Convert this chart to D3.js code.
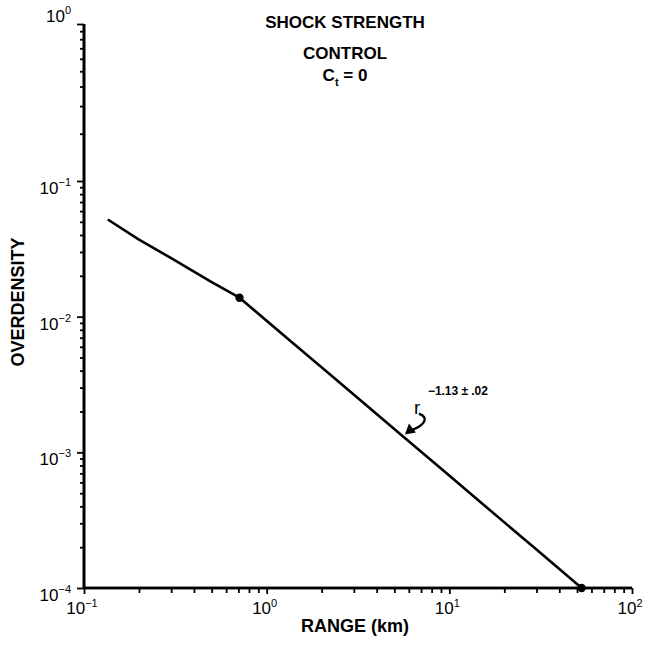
<!DOCTYPE html>
<html><head><meta charset="utf-8">
<script src="https://cdn.jsdelivr.net/npm/d3@7"></script>
<style>
body{margin:0;background:#fff;}
text{font-family:"Liberation Sans",Arial,sans-serif;fill:#000;}
</style></head>
<body><svg id="c" width="651" height="648"></svg>
<script>
// Data
const rangeKm = [0.135, 0.2, 0.3, 0.5, 0.71, 1.3, 2.2, 3.5, 5.5, 9, 15, 30, 53];
const overdensity = [0.052, 0.037, 0.027, 0.018, 0.0138, 0.0069, 0.0038, 0.00223, 0.00133, 0.00076, 0.000423, 0.000192, 0.0001];
const markedRange = [0.71, 53];
const markedOverdensity = [0.0138, 0.0001];
const xMajorTicks = [0.1, 1, 10, 100];
const xTickExp = ["-1", "0", "1", "2"];
const yMajorTicks = [1, 0.1, 0.01, 0.001, 0.0001];
const yTickExp = ["0", "-1", "-2", "-3", "-4"];
const titleLines = ["SHOCK STRENGTH", "CONTROL"];
const annotationExp = "−1.13 ± .02";

const svg = d3.select("#c");
const x = d3.scaleLog().domain([0.1, 100]).range([84, 632]);
// the scanned axis has a taller top decade
const y = d3.scaleLog().domain([1e-4, 0.1, 1]).range([588, 181, 24]);

function minors(lo, hi) {
  const out = [];
  for (let e = Math.round(Math.log10(lo)); e < Math.round(Math.log10(hi)); e++)
    for (let k = 2; k <= 9; k++) out.push(k * Math.pow(10, e));
  return out;
}

// X axis
const gx = svg.append("g").attr("transform", "translate(0,588)");
gx.call(d3.axisBottom(x).tickValues(minors(0.1, 100)).tickSize(5).tickFormat(""));
gx.append("g").call(d3.axisBottom(x).tickValues(xMajorTicks).tickSize(6).tickFormat(""));
gx.selectAll(".domain").attr("stroke-width", 2.6).attr("d", `M${x(0.1)},0H${x(100)}`);
gx.selectAll(".tick line").attr("stroke-width", 1.8).attr("stroke", "#000");
xMajorTicks.forEach((v, i) => {
  const t = gx.append("text").attr("x", x(v) - 2).attr("y", 26).attr("text-anchor", "middle")
    .style("font-size", "17px");
  t.append("tspan").text("10");
  t.append("tspan").attr("dy", -7).style("font-size", "11px").text(xTickExp[i].replace("-", "−"));
});

// Y axis
const gy = svg.append("g").attr("transform", "translate(84,0)");
gy.call(d3.axisLeft(y).tickValues(minors(1e-4, 1)).tickSize(4).tickFormat(""));
gy.append("g").call(d3.axisLeft(y).tickValues(yMajorTicks).tickSize(7).tickFormat(""));
gy.selectAll(".domain").attr("stroke-width", 2.6).attr("d", `M0,${y(1)}V${y(1e-4)}`);
gy.selectAll(".tick line").attr("stroke-width", 1.8).attr("stroke", "#000");
yMajorTicks.forEach((v, i) => {
  const t = gy.append("text").attr("x", -13).attr("y", y(v) + (i === 0 ? -2 : 13)).attr("text-anchor", "end")
    .style("font-size", "17px");
  t.append("tspan").text("10");
  t.append("tspan").attr("dy", -8).style("font-size", "11px").text(yTickExp[i].replace("-", "−"));
});

// Line
const line = d3.line().x((d, i) => x(rangeKm[i])).y((d, i) => y(overdensity[i])).curve(d3.curveLinear);
svg.append("path").datum(overdensity).attr("d", line)
  .attr("fill", "none").attr("stroke", "#000").attr("stroke-width", 2.6).attr("stroke-linejoin", "round");

svg.selectAll("circle.pt").data(markedRange).enter().append("circle")
  .attr("cx", d => x(d)).attr("cy", (d, i) => y(markedOverdensity[i])).attr("r", 4.2).attr("fill", "#000");

// Titles
svg.append("text").attr("x", 345).attr("y", 28).attr("text-anchor", "middle")
  .style("font-size", "17px").style("font-weight", "bold").text(titleLines[0]);
svg.append("text").attr("x", 345).attr("y", 59).attr("text-anchor", "middle")
  .style("font-size", "17px").style("font-weight", "bold").text(titleLines[1]);
const c1 = svg.append("text").attr("x", 345).attr("y", 81).attr("text-anchor", "middle")
  .style("font-size", "17px").style("font-weight", "bold");
c1.append("tspan").text("C");
c1.append("tspan").attr("dy", 5).style("font-size", "11px").text("t");
c1.append("tspan").attr("dy", -5).text(" = 0");

// Axis titles
svg.append("text").attr("transform", "translate(24,302) rotate(-90)").attr("text-anchor", "middle")
  .style("font-size", "18px").style("font-weight", "bold").text("OVERDENSITY");
svg.append("text").attr("x", 355).attr("y", 632).attr("text-anchor", "middle")
  .style("font-size", "18px").style("font-weight", "bold").text("RANGE (km)");

// Annotation
const ax = x(5.5), ay = y(0.00133);
svg.append("text").attr("x", ax + 12).attr("y", ay - 22).style("font-size", "19px").text("r");
svg.append("text").attr("x", ax + 26).attr("y", ay - 41)
  .attr("textLength", 60).attr("lengthAdjust", "spacing")
  .style("font-size", "12px").style("font-weight", "bold").text(annotationExp);
svg.append("path")
  .attr("d", `M${ax + 17},${ay - 22} C${ax + 28},${ay - 18} ${ax + 22},${ay - 10} ${ax + 11},${ay - 6}`)
  .attr("fill", "none").attr("stroke", "#000").attr("stroke-width", 2.4);
svg.append("path")
  .attr("d", `M${ax + 3},${ay - 1} L${ax + 7},${ay - 12} L${ax + 14},${ay - 3} Z`)
  .attr("fill", "#000");
</script></body></html>
